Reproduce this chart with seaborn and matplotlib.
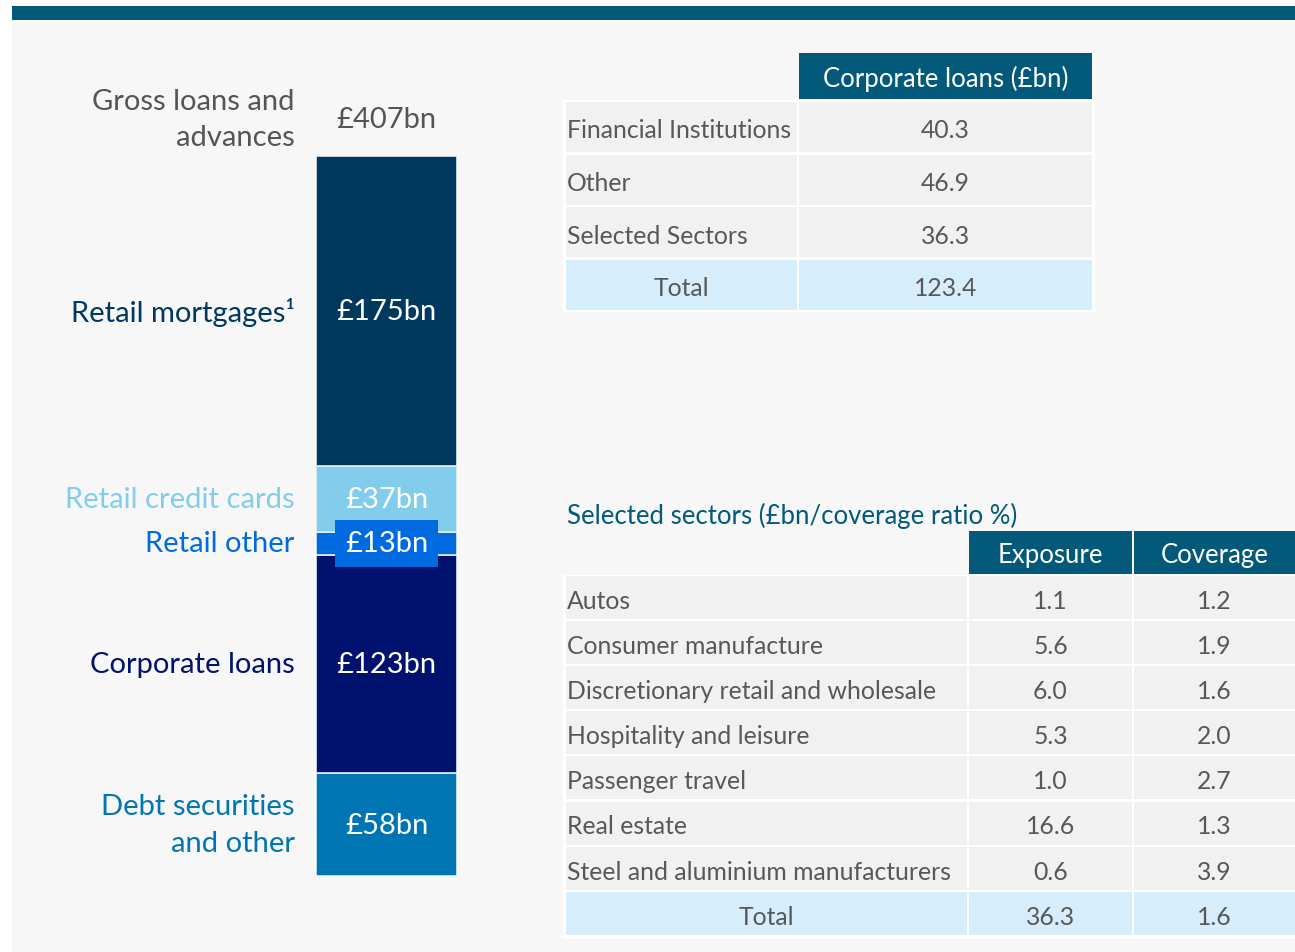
import matplotlib
matplotlib.use("Agg")
import matplotlib.pyplot as plt
import seaborn as sns
from matplotlib.patches import Rectangle
import matplotlib.transforms as mtransforms

# --- data ---
seg_names = ["Debt securities\nand other", "Corporate loans", "Retail other",
             "Retail credit cards", "Retail mortgages¹"]
seg_values = [58, 123, 13, 37, 175]
seg_labels = ["£58bn", "£123bn", "£13bn", "£37bn", "£175bn"]
seg_colors = ["#0075b4", "#00126e", "#006be0", "#82cdec", "#00395d"]
gross_total = "£407bn"

corp_rows = ["Financial Institutions", "Other", "Selected Sectors"]
corp_vals = [40.3, 46.9, 36.3]
corp_total = 123.4

sectors = ["Autos", "Consumer manufacture", "Discretionary retail and wholesale",
           "Hospitality and leisure", "Passenger travel", "Real estate",
           "Steel and aluminium manufacturers"]
exposure = [1.1, 5.6, 6.0, 5.3, 1.0, 16.6, 0.6]
coverage = [1.2, 1.9, 1.6, 2.0, 2.7, 1.3, 3.9]
sector_total = [36.3, 1.6]

# --- style ---
sns.set_theme(style="white")
plt.rcParams["font.family"] = ["Lato", "DejaVu Sans"]

TEAL = "#03597a"
CELL = "#f1f1f1"
TOTAL = "#d6eefb"
TXT = "#585858"
FS = 17.8          # table body font size
DY = 3             # baseline nudge for table text
W, H = 1295, 953

fig = plt.figure(figsize=(W / 100, H / 100), dpi=100, facecolor="white")

# background / table canvas in pixel coordinates
bg = fig.add_axes([0, 0, 1, 1], zorder=0)
bg.set_xlim(0, W)
bg.set_ylim(H, 0)
bg.axis("off")
bg.add_patch(Rectangle((12, 21), W - 12, H - 21, color="#f7f7f7", lw=0))
bg.add_patch(Rectangle((12, 7), W - 12, 14, color=TEAL, lw=0))


def cell(x0, x1, y0, y1, color):
    bg.add_patch(Rectangle((x0, y0), x1 - x0, y1 - y0, color=color, lw=0))


def txt(x, y, s, ha="center", **kw):
    bg.text(x, y + DY, s, color=TXT, fontsize=FS, ha=ha, va="center", **kw)


# table 1: corporate loans
c1 = [(566, 797), (799, 1092)]
cell(c1[1][0], c1[1][1], 54, 100, TEAL)
bg.text(sum(c1[1]) / 2, 79, "Corporate loans (£bn)", color="white",
        fontsize=18.5, ha="center", va="center")
cell(563, 1095, 101, 313, "white")
pitch, rh, top = 52.5, 50, 103
for i, (name, v) in enumerate(zip(corp_rows, corp_vals)):
    y0 = top + i * pitch
    cell(*c1[0], y0, y0 + rh, CELL)
    cell(*c1[1], y0, y0 + rh, CELL)
    txt(c1[0][0] + 1, y0 + rh / 2, name, ha="left")
    txt(sum(c1[1]) / 2, y0 + rh / 2, f"{v:.1f}")
y0 = top + len(corp_rows) * pitch
cell(*c1[0], y0, y0 + rh, TOTAL)
cell(*c1[1], y0, y0 + rh, TOTAL)
txt(sum(c1[0]) / 2, y0 + rh / 2, "Total")
txt(sum(c1[1]) / 2, y0 + rh / 2, f"{corp_total:.1f}")

# table 2: selected sectors
bg.text(567, 516, "Selected sectors (£bn/coverage ratio %)", color=TEAL,
        fontsize=18.5, ha="left", va="center")
c2 = [(566, 967), (969, 1132), (1134, W)]
for (x0, x1), head in zip(c2[1:], ["Exposure", "Coverage"]):
    cell(x0, x1, 532, 575, TEAL)
    bg.text((x0 + x1) / 2, 556, head, color="white", fontsize=18.5,
            ha="center", va="center")
cell(563, W, 576, 940, "white")
pitch, rh, top = 45.1, 43, 577
for i, (name, e, c) in enumerate(zip(sectors, exposure, coverage)):
    y0 = top + i * pitch
    for x0, x1 in c2:
        cell(x0, x1, y0, y0 + rh, CELL)
    txt(c2[0][0] + 1, y0 + rh / 2, name, ha="left")
    for (x0, x1), v in zip(c2[1:], [e, c]):
        txt((x0 + x1) / 2, y0 + rh / 2, f"{v:.1f}")
y0 = top + len(sectors) * pitch
for x0, x1 in c2:
    cell(x0, x1, y0, y0 + rh, TOTAL)
txt(sum(c2[0]) / 2, y0 + rh / 2, "Total")
for (x0, x1), v in zip(c2[1:], sector_total):
    txt((x0 + x1) / 2, y0 + rh / 2, f"{v:.1f}")

# stacked bar
bx0, bx1, by0, by1 = 316, 457, 157, 877
ax = fig.add_axes([bx0 / W, 1 - by1 / H, (bx1 - bx0) / W, (by1 - by0) / H], zorder=1)
ax.patch.set_alpha(0)
tr = mtransforms.blended_transform_factory(ax.transAxes, ax.transData)
bottom = 0
for name, v, lab, col in zip(seg_names, seg_values, seg_labels, seg_colors):
    sns.barplot(x=[0], y=[v], bottom=bottom, color=col, width=1.0, ax=ax,
                saturation=1, edgecolor="#e6eef4", linewidth=1.2)
    mid = bottom + v / 2
    box = None
    if name == "Retail other":
        box = dict(boxstyle="square,pad=0.35", fc=col, ec="none")
    ax.text(0, mid, lab, color="white", fontsize=21,
            ha="center", va="center", bbox=box, zorder=5)
    ax.text(-0.15, mid, name, transform=tr, color=col, fontsize=21,
            ha="right", va="center", linespacing=1.5)
    bottom += v

ax.set_xlim(-0.5, 0.5)
ax.set_ylim(0, sum(seg_values))
ax.axis("off")
ax.text(0, sum(seg_values) + 21, gross_total, color="#555555", fontsize=21,
        ha="center", va="center")
ax.text(-0.15, sum(seg_values) + 21, "Gross loans and\nadvances", transform=tr,
        color="#555555", fontsize=21, ha="right", va="center", linespacing=1.5)

fig.savefig("out.png", dpi=100, facecolor="white")
